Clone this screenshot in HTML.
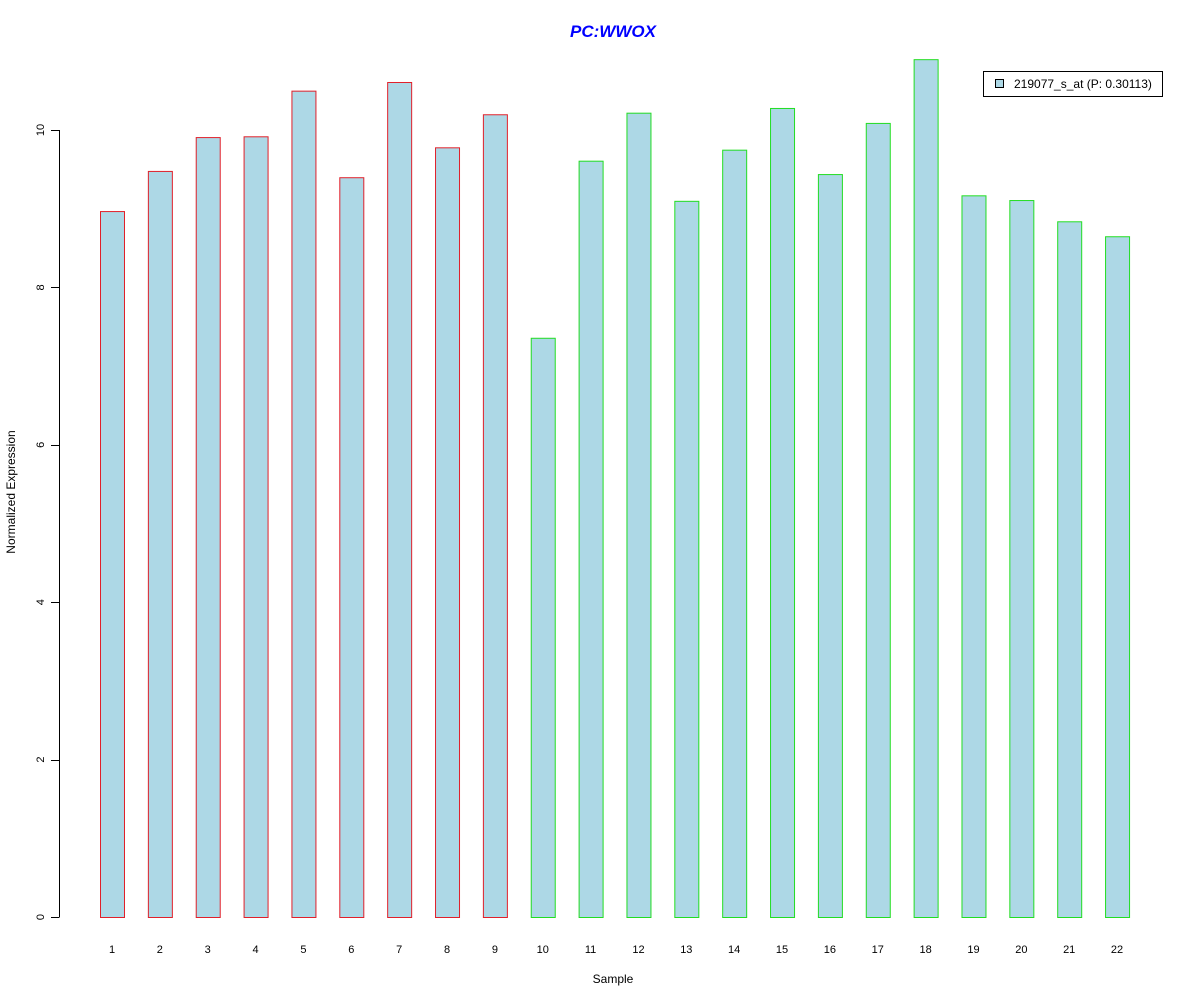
<!DOCTYPE html>
<html><head><meta charset="utf-8"><style>body{margin:0;background:#fff}svg{display:block}text{font-family:"Liberation Sans",Arial,sans-serif}</style></head>
<body>
<svg id="chart" width="1200" height="1000" xmlns="http://www.w3.org/2000/svg">
<rect width="1200" height="1000" fill="#fff"/>
<text x="613" y="37" text-anchor="middle" font-size="17" font-weight="bold" font-style="italic" fill="#0000ff">PC:WWOX</text>
<text x="613" y="983" text-anchor="middle" font-size="12">Sample</text>
<text x="15" y="492" text-anchor="middle" font-size="12" transform="rotate(-90 15 492)">Normalized Expression</text>
<g id="bars"></g><g id="xlabels"></g><g id="yaxis"></g>
<g>
<rect x="983.5" y="71.5" width="179" height="25" fill="#fff" stroke="#000"/>
<rect x="995.5" y="79.5" width="8" height="8" fill="#add8e6" stroke="#000"/>
<text x="1014" y="88" font-size="12">219077_s_at (P: 0.30113)</text>
</g>
</svg>
<script>
const categories=["1","2","3","4","5","6","7","8","9","10","11","12","13","14","15","16","17","18","19","20","21","22"];
const values=[8.97,9.48,9.91,9.92,10.50,9.40,10.61,9.78,10.20,7.36,9.61,10.22,9.10,9.75,10.28,9.44,10.09,10.90,9.17,9.11,8.84,8.65];
const groups=["red","red","red","red","red","red","red","red","red","green","green","green","green","green","green","green","green","green","green","green","green","green"];
const yTicks=[0,2,4,6,8,10];
const NS="http://www.w3.org/2000/svg";
const y=v=>917-v*78.7;
const x=i=>100+i*47.86;
const bw=24;
const bars=document.getElementById('bars'),xl=document.getElementById('xlabels'),ya=document.getElementById('yaxis');
values.forEach((v,i)=>{
 const r=document.createElementNS(NS,'rect');
 r.setAttribute('x',x(i)+0.5);r.setAttribute('y',y(v)+0.5);r.setAttribute('width',bw);r.setAttribute('height',y(0)-y(v));
 r.setAttribute('fill','#add8e6');r.setAttribute('stroke',groups[i]==='red'?'#e0202a':'#22dd22');
 
 
 bars.appendChild(r);
 const t=document.createElementNS(NS,'text');
 t.setAttribute('x',x(i)+bw/2);t.setAttribute('y',953);t.setAttribute('text-anchor','middle');t.setAttribute('font-size','11');
 t.textContent=categories[i];
 
 
 xl.appendChild(t);
});
const ax=document.createElementNS(NS,'line');
ax.setAttribute('x1',59.5);ax.setAttribute('x2',59.5);ax.setAttribute('y1',y(yTicks[yTicks.length-1]));ax.setAttribute('y2',y(0));ax.setAttribute('stroke','#000');


ya.appendChild(ax);
yTicks.forEach(v=>{
 const l=document.createElementNS(NS,'line');
 l.setAttribute('x1',51);l.setAttribute('x2',59.5);l.setAttribute('y1',Math.round(y(v))+0.5);l.setAttribute('y2',Math.round(y(v))+0.5);l.setAttribute('stroke','#000');
 
 
 ya.appendChild(l);
 const t=document.createElementNS(NS,'text');
 const yy=y(v);
 t.setAttribute('x',44);t.setAttribute('y',yy);t.setAttribute('text-anchor','middle');t.setAttribute('font-size','11');
 t.setAttribute('transform','rotate(-90 44 '+yy+')');
 t.textContent=v;
 
 
 ya.appendChild(t);
});
</script>
</body></html>
